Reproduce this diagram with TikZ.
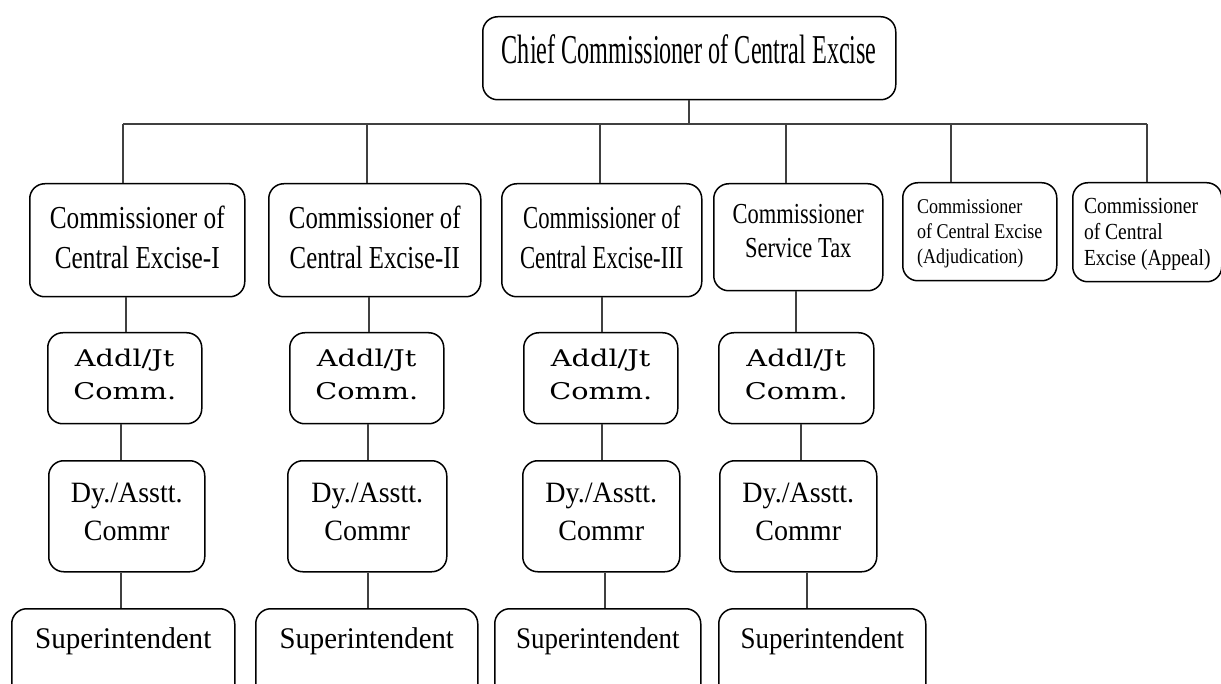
\documentclass[tikz,border=0pt]{standalone}
\usepackage{fontspec}
\setmainfont{Liberation Serif}
\newfontfamily\wideserif{DejaVu Serif}
\usepackage{graphicx}
% #1 horizontal squeeze, #2 font size, #3 line spacing, #4 column alignment, #5 lines
\newcommand\orgtext[5]{{\fontsize{#2}{#3}\selectfont\scalebox{#1}[1]{\begin{tabular}[t]{@{}#4@{}}#5\end{tabular}}}}
\tikzset{
  orgbox/.style={draw=black, line width=1.5pt, rounded corners=15pt, inner sep=0pt,
                 anchor=north west, fill=white},
  link/.style={draw=black!75, line width=1.3pt},
}
\begin{document}
\begin{tikzpicture}[x=1pt, y=-1pt]
\useasboundingbox (0,0) rectangle (1221,684);
\fill[white] (0,0) rectangle (1221,684);
\clip (0,0) rectangle (1221,684);

% top of the hierarchy
\node[orgbox, minimum width=413pt, text height=47pt, text depth=36pt] (chief) at (482,16)
  {\orgtext{0.59}{41}{48}{c}{Chief Commissioner of Central Excise}};

% commissioners
\node[orgbox, minimum width=215pt, text height=45pt, text depth=68pt] (c1) at (29,183)
  {\orgtext{0.79}{32}{40}{c}{Commissioner of\\Central Excise-I}};
\node[orgbox, minimum width=212pt, text height=45pt, text depth=68pt] (c2) at (268,183)
  {\orgtext{0.775}{32}{40}{c}{Commissioner of\\Central Excise-II}};
\node[orgbox, minimum width=200pt, text height=45pt, text depth=68pt] (c3) at (501,183)
  {\orgtext{0.71}{32}{40}{c}{Commissioner of\\Central Excise-III}};
\node[orgbox, minimum width=169pt, text height=40pt, text depth=67pt] (c4) at (713,183)
  {\orgtext{0.775}{29}{34}{c}{Commissioner\\Service Tax}};
\node[orgbox, minimum width=154pt, text height=31pt, text depth=67pt] (c5) at (902,182)
  {\orgtext{0.86}{21}{25}{l}{Commissioner\\of Central Excise\\(Adjudication)}};
\node[orgbox, minimum width=149pt, text height=31pt, text depth=68pt] (c6) at (1072,182)
  {\orgtext{0.85}{23}{26}{l}{Commissioner\\of Central\\Excise (Appeal)}};

% additional / joint commissioners
\foreach \n/\x/\w in {a1/47/154, a2/289/154, a3/523/154, a4/718/155}
  \node[orgbox, minimum width=\w pt, text height=34pt, text depth=57pt] (\n) at (\x,332)
    {\wideserif\orgtext{1.25}{23}{33}{c}{Addl/Jt\\Comm.}};

% deputy / assistant commissioners
\foreach \n/\x/\w in {b1/48/156, b2/287/159, b3/522/157, b4/719/157}
  \node[orgbox, minimum width=\w pt, text height=42pt, text depth=69pt] (\n) at (\x,460)
    {\orgtext{0.95}{29.5}{38}{c}{Dy./Asstt.\\Commr}};

% superintendents
\foreach \n/\x/\w/\s in {s1/11/223/0.97, s2/255/222/0.96, s3/494/206/0.9, s4/718/207/0.9}
  \node[orgbox, minimum width=\w pt, text height=40pt, text depth=92pt] (\n) at (\x,608)
    {\orgtext{\s}{30}{36}{c}{Superintendent}};

% distribution bus below the chief commissioner
\path (689,124) coordinate (d0)
      (123,124) coordinate (d1) (367,124) coordinate (d2) (600,124) coordinate (d3)
      (786,124) coordinate (d4) (951,124) coordinate (d5) (1147,124) coordinate (d6);
\draw[link] (chief.south -| d0) -- (d0);
\draw[link] (d1) -- (d6);
\foreach \i in {1,...,6}
  \draw[link] (d\i) -- (d\i |- c\i.north);

% vertical chains in the four field columns
\path (126,0) coordinate (k1a) (121,0) coordinate (k1b) (121,0) coordinate (k1c)
      (369,0) coordinate (k2a) (368,0) coordinate (k2b) (368,0) coordinate (k2c)
      (602,0) coordinate (k3a) (602,0) coordinate (k3b) (605,0) coordinate (k3c)
      (796,0) coordinate (k4a) (801,0) coordinate (k4b) (807,0) coordinate (k4c);
\foreach \i in {1,...,4} {
  \draw[link] (c\i.south -| k\i a) -- (a\i.north -| k\i a);
  \draw[link] (a\i.south -| k\i b) -- (b\i.north -| k\i b);
  \draw[link] (b\i.south -| k\i c) -- (s\i.north -| k\i c);
}
\end{tikzpicture}
\end{document}
